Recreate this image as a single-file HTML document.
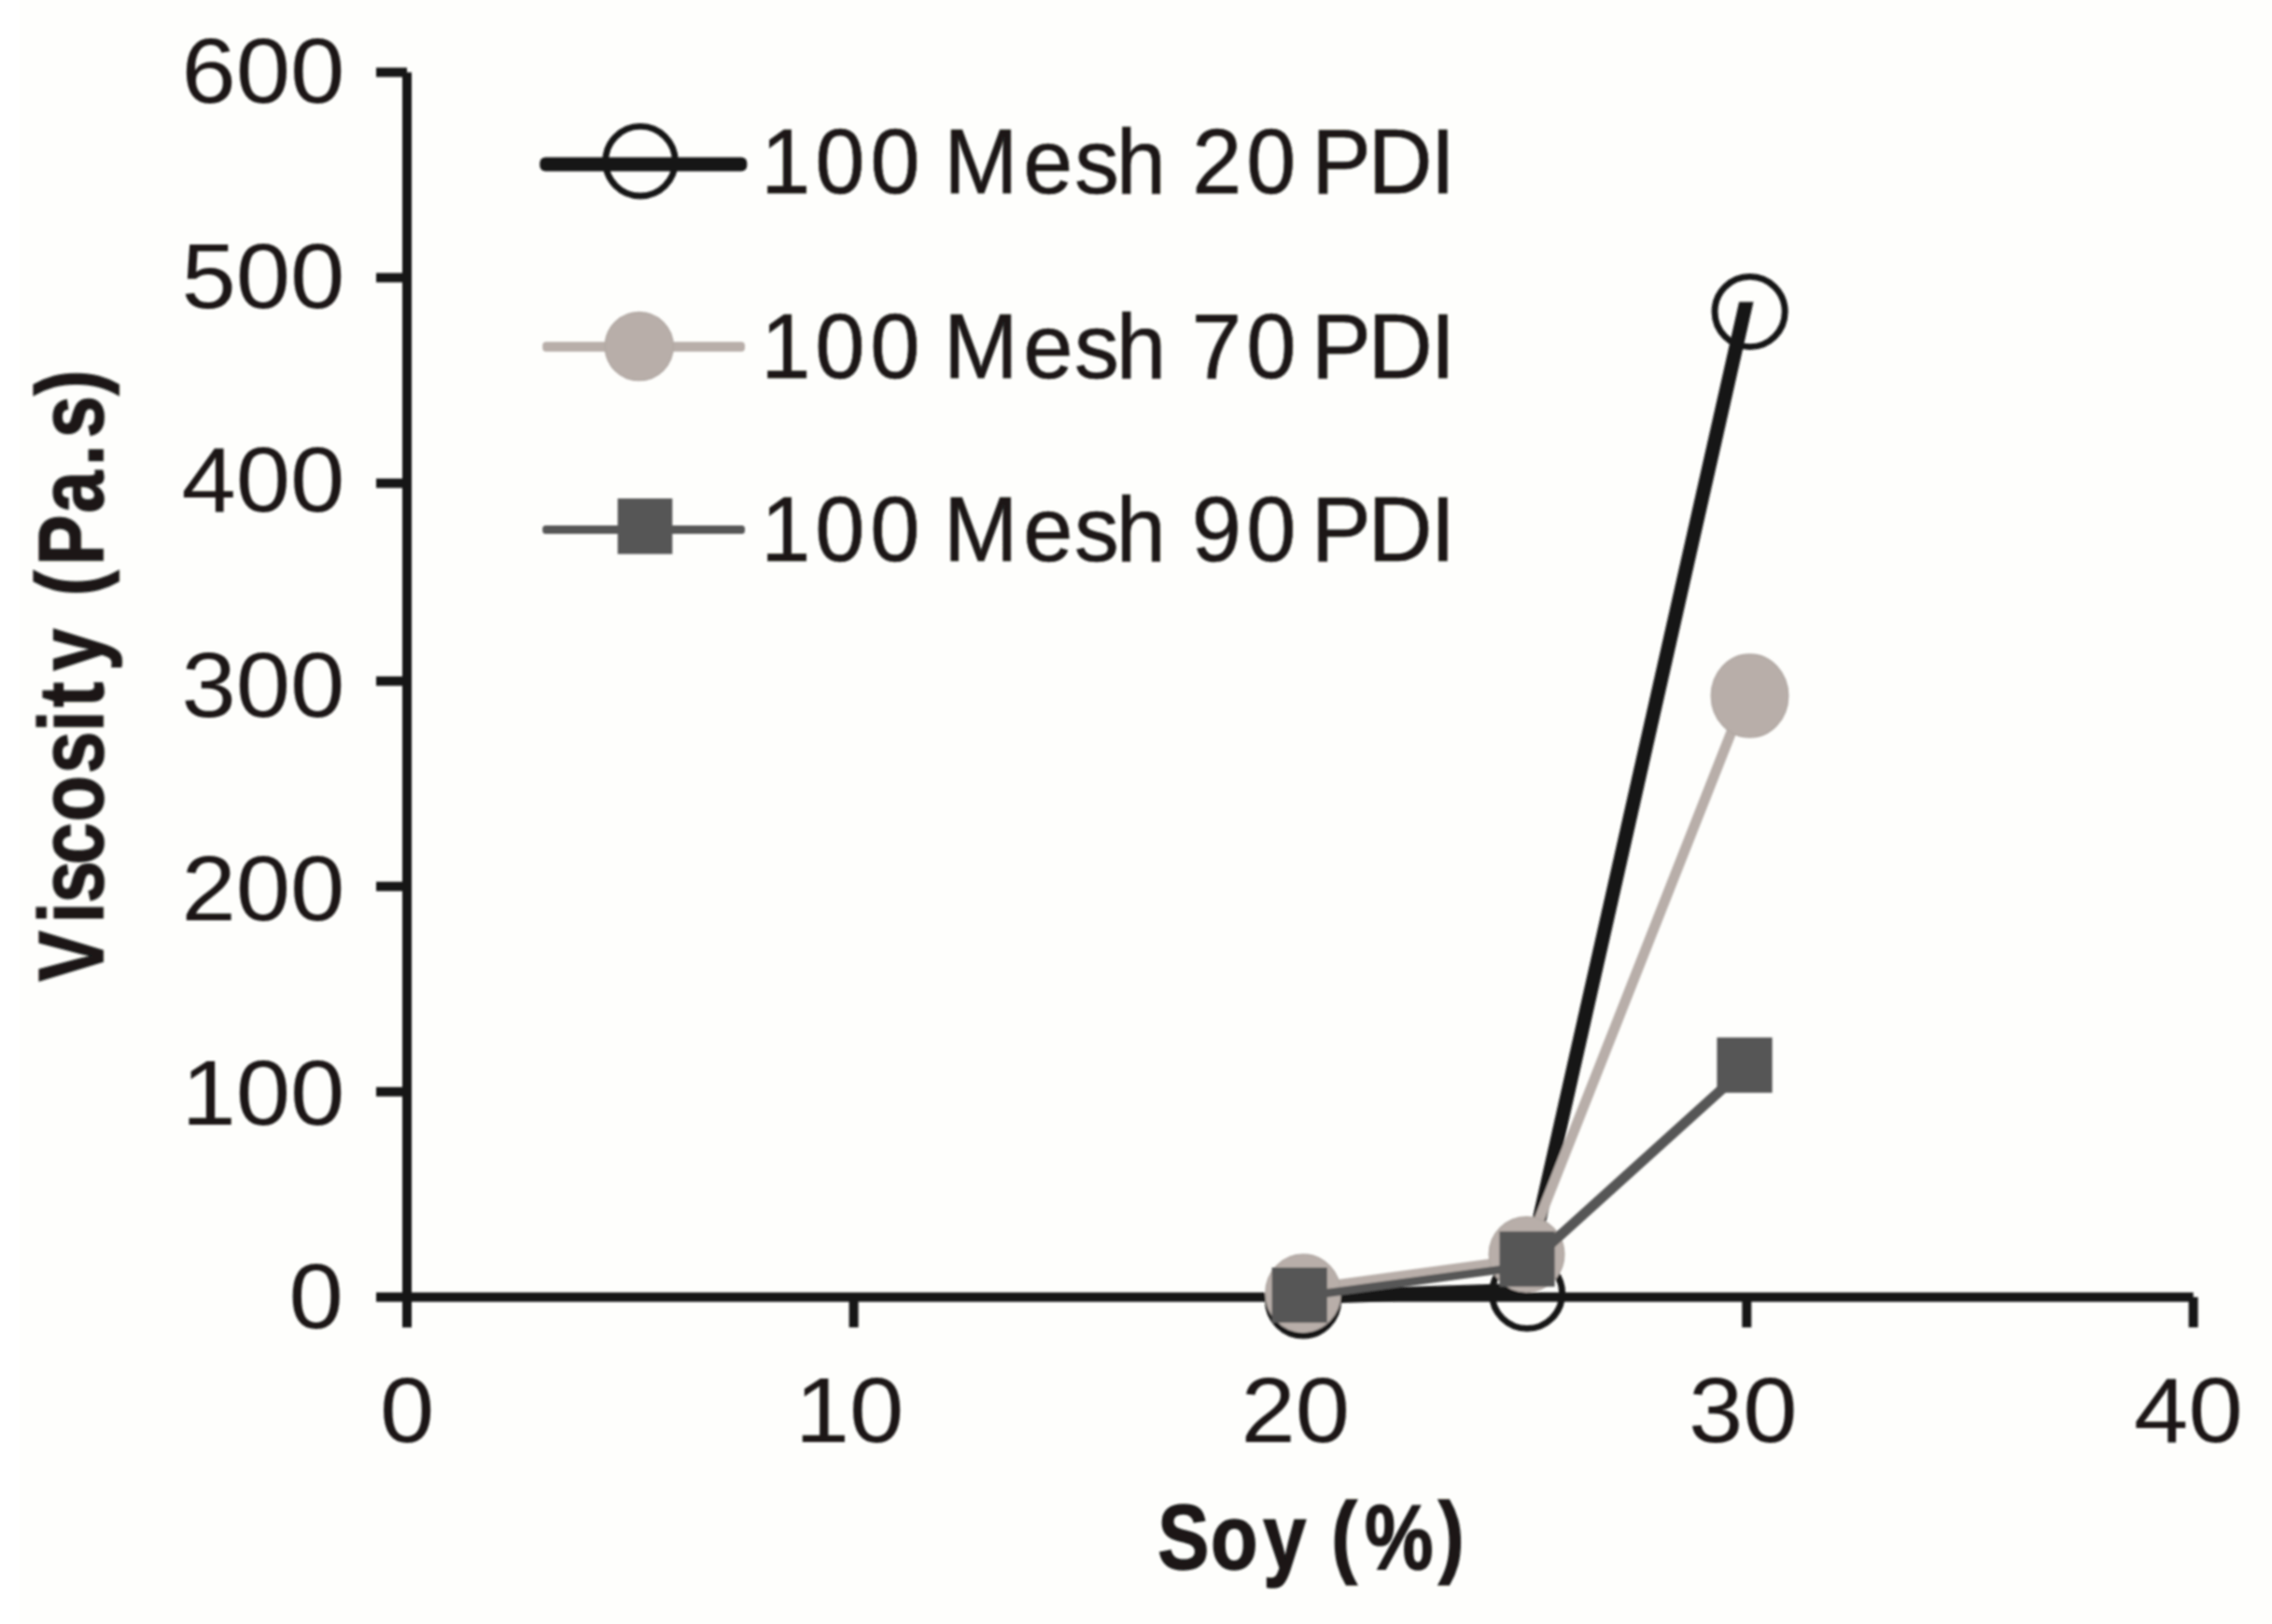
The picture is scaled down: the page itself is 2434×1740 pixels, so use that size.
<!DOCTYPE html>
<html lang="en"><head><meta charset="utf-8"><title>Viscosity vs Soy</title>
<style>html,body{margin:0;padding:0;background:#fefefc}body{width:2434px;height:1740px;overflow:hidden}svg{display:block}text{font-family:"Liberation Sans",sans-serif;fill:#1a1815;white-space:pre}.n{font-size:98px}.l{stroke:#1a1815;stroke-width:.7px}.b{font-size:98.5px;font-weight:bold;stroke:#1a1815;stroke-width:1.6px}</style></head><body>
<svg width="2434" height="1740" viewBox="0 0 2434 1740">
<rect width="2434" height="1740" fill="#fefefc"/>
<rect width="20.7" height="1740" fill="#ffffff"/>
<filter id="soft" x="0" y="0" width="2434" height="1740" filterUnits="userSpaceOnUse"><feGaussianBlur stdDeviation="0.8"/></filter>
<g filter="url(#soft)">
<g fill="none" stroke="#161616" stroke-width="10">
<path d="M436 77.5V1422.2"/>
<path d="M403 77.5H436"/>
<path d="M403 297.5H436"/>
<path d="M403 517.7H436"/>
<path d="M403 729.8H436"/>
<path d="M403 949.8H436"/>
<path d="M403 1169.8H436"/>
<path d="M403 1389.8H2349.7"/>
<path d="M914.6 1389.8V1422.2"/>
<path d="M1392.9 1389.8V1422.2"/>
<path d="M1871.3 1389.8V1422.2"/>
<path d="M2349.7 1389.8V1422.2"/>
</g>
<text class="n" transform="translate(194.48 109.80) scale(1.0700 1)">600</text>
<text class="n" transform="translate(194.48 329.80) scale(1.0700 1)">500</text>
<text class="n" transform="translate(194.48 547.70) scale(1.0700 1)">400</text>
<text class="n" transform="translate(194.48 767.80) scale(1.0700 1)">300</text>
<text class="n" transform="translate(194.48 985.70) scale(1.0700 1)">200</text>
<text class="n" transform="translate(194.48 1205.10) scale(1.0700 1)">100</text>
<text class="n" transform="translate(309.60 1423.40) scale(1.0700 1)">0</text>
<text class="n" transform="translate(407.00 1545.10) scale(1.0700 1)">0</text>
<text class="n" transform="translate(851.68 1545.10) scale(1.0700 1)">10</text>
<text class="n" transform="translate(1329.48 1545.10) scale(1.0700 1)">20</text>
<text class="n" transform="translate(1808.98 1545.10) scale(1.0700 1)">30</text>
<text class="n" transform="translate(2286.08 1545.10) scale(1.0700 1)">40</text>
<clipPath id="c1"><rect x="1300" y="323.4" width="700" height="1200"/></clipPath>
<path clip-path="url(#c1)" d="M1392.9 1389.8L1632 1382.2L1875.3 303.5" fill="none" stroke="#161616" stroke-width="15" stroke-linejoin="round"/>
<circle cx="1396.0" cy="1393.5" r="37.6" fill="none" stroke="#161616" stroke-width="6.9"/>
<circle cx="1636.0" cy="1385.8" r="37.6" fill="none" stroke="#161616" stroke-width="6.9"/>
<circle cx="1874.6" cy="334.0" r="37.6" fill="none" stroke="#161616" stroke-width="6.9"/>
<path d="M1392.9 1382L1632 1349.4L1871.3 742.5" fill="none" stroke="#b8aea9" stroke-width="11" stroke-linejoin="round"/>
<ellipse cx="1396" cy="1385.6" rx="40.2" ry="41.5" fill="#b8aea9" stroke="#b1a8a3" stroke-width="1.5"/>
<ellipse cx="1635.5" cy="1344" rx="40.2" ry="40.2" fill="#b8aea9" stroke="#b1a8a3" stroke-width="1.5"/>
<ellipse cx="1874.5" cy="745.5" rx="41.2" ry="44.6" fill="#b8aea9" stroke="#b1a8a3" stroke-width="1.5"/>
<path d="M1392.9 1389.4L1632 1357" fill="none" stroke="#565656" stroke-width="8.8"/>
<path d="M1634.3 1357L1874.6 1140" fill="none" stroke="#565656" stroke-width="11"/>
<rect x="1362.60" y="1358.00" width="59.2" height="59.2" fill="#565656"/>
<rect x="1606.40" y="1319.40" width="59.2" height="59.2" fill="#565656"/>
<rect x="1839.40" y="1111.60" width="59.2" height="59.2" fill="#565656"/>
<rect x="578.3" y="168.5" width="222" height="15" rx="6" fill="#161616"/>
<circle cx="686" cy="172.7" r="37.3" fill="none" stroke="#161616" stroke-width="6.9"/>
<rect x="581.2" y="366.25" width="216.8" height="10.5" rx="4" fill="#b8aea9"/>
<circle cx="684.7" cy="371.1" r="36.5" fill="#b8aea9" stroke="#b1a8a3" stroke-width="1.5"/>
<rect x="581.2" y="563.1" width="216.8" height="8.8" rx="3.5" fill="#565656"/>
<rect x="661.7" y="534.1" width="58.6" height="59.5" fill="#565656"/>
<text class="n l" transform="translate(0 207.40) scale(0.9722 1)" x="838.7 898.4 959.1 1013.3 1040.2 1127.6 1184.1 1230.2 1281.1 1313.7 1373.5 1427.7 1445.4 1507.7 1576.4">100 Mesh 20 PDI</text>
<text class="n l" transform="translate(0 405.10) scale(0.9766 1)" x="834.8 894.2 954.6 1008.7 1035.3 1122.4 1178.6 1224.6 1275.3 1307.4 1367.2 1421.3 1438.7 1500.7 1569.2">100 Mesh 70 PDI</text>
<text class="n l" transform="translate(0 600.60) scale(0.9747 1)" x="836.4 896.0 956.5 1010.6 1037.3 1124.6 1180.9 1226.9 1277.7 1309.8 1369.8 1424.0 1441.5 1503.6 1572.2">100 Mesh 90 PDI</text>
<text class="b" transform="translate(0 1681.00) scale(0.8388 1)" x="1478.5 1546.2 1613.2 1672.2 1700.3 1743.1 1837.3" y="0 0 0 0 -3.4 0 -3.4">Soy (%)</text>
<text class="b" transform="translate(110.20 0) rotate(-90) scale(0.8228 1)" x="-1277.8 -1202.3 -1175.7 -1125.9 -1070.2 -1007.3 -952.7 -920.9 -873.4 -815.2 -775.8 -736.1 -668.2 -606.5 -570.2 -514.5" y="0 0 0 0 0 0 0 0 0 0 -3.4 0 0 0 0 -3.4">Viscosity (Pa.s)</text>
</g>
</svg></body></html>
